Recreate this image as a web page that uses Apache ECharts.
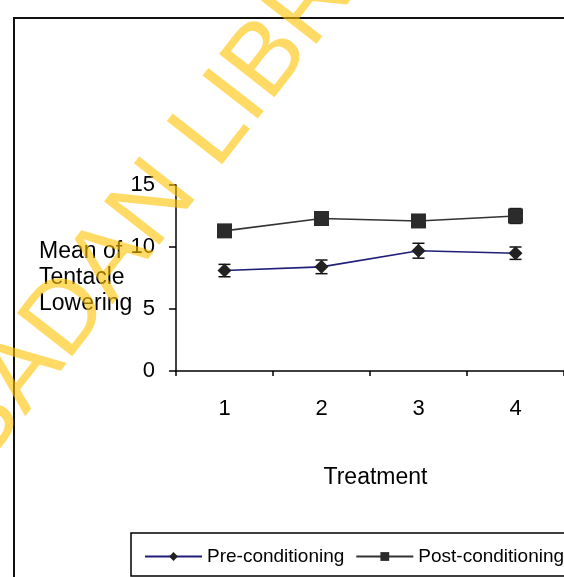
<!DOCTYPE html>
<html>
<head>
<meta charset="utf-8">
<script src="https://cdn.jsdelivr.net/npm/echarts@6/dist/echarts.min.js"></script>
<style>
  html, body { margin: 0; padding: 0; background: #fff; }
  #chart { width: 564px; height: 577px; }
</style>
</head>
<body>
<div id="chart"></div>
<script>
// data
const categories = ["1", "2", "3", "4"];
const preMean = [8.1, 8.4, 9.7, 9.5];
const preErr = [0.5, 0.55, 0.6, 0.5];
const postMean = [11.3, 12.3, 12.1, 12.5];
const postErr = [0.4, 0.5, 0.5, 0.6];
const seriesNames = ["Pre-conditioning", "Post-conditioning"];
const yMin = 0, yMax = 15, yStep = 5;

const FONT = "Liberation Sans, Arial, sans-serif";

// error bar ranges [index, low, high]
function errData(mean, err) {
  return mean.map((m, i) => [i, m - err[i], m + err[i]]);
}

function renderErr(params, api) {
  const x = api.value(0);
  const top = api.coord([x, api.value(2)]);
  const bot = api.coord([x, api.value(1)]);
  const w = 6;
  const style = { stroke: "#111", lineWidth: 1.5 };
  return {
    type: "group",
    children: [
      { type: "line", shape: { x1: top[0], y1: top[1], x2: bot[0], y2: bot[1] }, style: style },
      { type: "line", shape: { x1: top[0] - w, y1: top[1], x2: top[0] + w, y2: top[1] }, style: style },
      { type: "line", shape: { x1: bot[0] - w, y1: bot[1], x2: bot[0] + w, y2: bot[1] }, style: style },
    ],
  };
}

const myChart = echarts.init(document.getElementById("chart"));

const option = {
  backgroundColor: "#fff",
  animation: false,
  grid: { left: 176, right: 0, top: 185, bottom: 206 },
  legend: {
    data: seriesNames,
    left: 131,
    top: 533,
    width: 500,
    padding: [14, 12, 10, 13],
    borderColor: "#000",
    borderWidth: 1.5,
    itemWidth: 57,
    itemHeight: 11,
    itemGap: 11,
    textStyle: { fontFamily: FONT, fontSize: 19, color: "#000" },
  },
  xAxis: {
    type: "category",
    data: categories,
    boundaryGap: true,
    name: "Treatment",
    nameLocation: "middle",
    nameGap: 95,
    nameMoveOverlap: false,
    nameTextStyle: { fontFamily: FONT, fontSize: 23, color: "#000", padding: [0, 0, 0, 11] },
    axisLine: { lineStyle: { color: "#000", width: 1.5 } },
    axisTick: { show: true, length: 5, alignWithLabel: false, lineStyle: { color: "#000", width: 1.5 } },
    axisLabel: { fontFamily: FONT, fontSize: 22, color: "#000", margin: 27 },
    splitLine: { show: false },
  },
  yAxis: {
    type: "value",
    min: yMin,
    max: yMax,
    interval: yStep,
    name: "Mean of\nTentacle\nLowering",
    nameLocation: "middle",
    nameRotate: 0,
    nameGap: 137,
    nameMoveOverlap: false,
    nameTextStyle: {
      fontFamily: FONT,
      fontSize: 23,
      color: "#000",
      align: "left",
      verticalAlign: "middle",
      lineHeight: 26,
    },
    axisLine: { show: true, lineStyle: { color: "#000", width: 1.5 } },
    axisTick: { show: true, length: 7, lineStyle: { color: "#000", width: 1.5 } },
    axisLabel: { fontFamily: FONT, fontSize: 22, color: "#000", margin: 21 },
    splitLine: { show: false },
  },
  series: [
    {
      name: "err-pre",
      type: "custom",
      renderItem: renderErr,
      data: errData(preMean, preErr),
      z: 1,
    },
    {
      name: "err-post",
      type: "custom",
      renderItem: renderErr,
      data: errData(postMean, postErr),
      z: 1,
    },
    {
      name: seriesNames[0],
      type: "line",
      data: preMean,
      symbol: "diamond",
      symbolSize: 14,
      itemStyle: { color: "#222" },
      lineStyle: { color: "#1f1f7a", width: 1.6 },
      z: 3,
    },
    {
      name: seriesNames[1],
      type: "line",
      data: postMean,
      symbol: "rect",
      symbolSize: 15,
      itemStyle: { color: "#2b2b2b" },
      lineStyle: { color: "#333", width: 1.6 },
      z: 3,
    },
  ],
  graphic: [
    {
      // outer frame
      type: "rect",
      shape: { x: 14, y: 18, width: 700, height: 700 },
      style: { fill: "none", stroke: "#111", lineWidth: 2 },
      silent: true,
      z: 50,
    },
    {
      // library watermark
      type: "text",
      x: 203,
      y: 143,
      rotation: (52 * Math.PI) / 180,
      style: {
        text: "IBADAN LIBRARY",
        fontFamily: FONT,
        fontSize: 102,
        fill: "rgba(255,195,0,0.6)",
        align: "center",
        verticalAlign: "middle",
      },
      silent: true,
      z: 100,
    },
  ],
};

myChart.setOption(option);
</script>
</body>
</html>
